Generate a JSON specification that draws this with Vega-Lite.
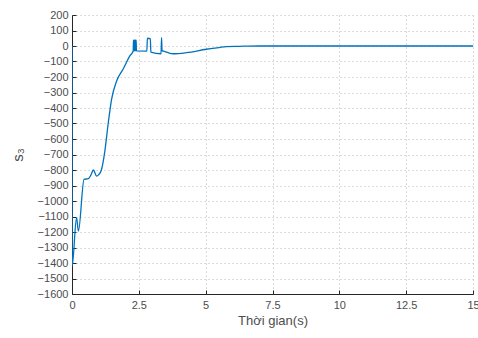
{
  "$schema": "https://vega.github.io/schema/vega-lite/v6.json",
  "width": 401,
  "height": 279,
  "autosize": "none",
  "padding": {"left": 72, "top": 15, "right": 5, "bottom": 44},
  "background": "white",
  "config": {
    "view": {"stroke": null},
    "font": "Liberation Sans",
    "axis": {
      "domainColor": "#262626",
      "tickColor": "#262626",
      "labelColor": "#4d4d4d",
      "titleColor": "#4d4d4d",
      "labelFont": "Liberation Sans",
      "titleFont": "Liberation Sans",
      "labelFontSize": 11,
      "titleFontSize": 13,
      "titleFontWeight": "normal",
      "gridColor": "#c4c4c4",
      "gridDash": [1.2, 2.8],
      "gridWidth": 1,
      "tickSize": -4,
      "domainWidth": 1
    }
  },
  "data": {
    "values": [
      {"t": 0, "s": 0},
      {"t": 0.005, "s": -1420},
      {"t": 0.17, "s": -1108},
      {"t": 0.24, "s": -1194},
      {"t": 0.45, "s": -860},
      {"t": 0.61, "s": -856},
      {"t": 0.7, "s": -835},
      {"t": 0.8, "s": -800},
      {"t": 0.92, "s": -839},
      {"t": 1.0, "s": -830},
      {"t": 1.1, "s": -800},
      {"t": 1.23, "s": -677},
      {"t": 1.35, "s": -505},
      {"t": 1.48, "s": -344},
      {"t": 1.67, "s": -226},
      {"t": 1.91, "s": -150},
      {"t": 2.16, "s": -65},
      {"t": 2.29, "s": -32},
      {"t": 2.3, "s": 37},
      {"t": 2.31, "s": -32},
      {"t": 2.32, "s": 38},
      {"t": 2.33, "s": -30},
      {"t": 2.34, "s": 38},
      {"t": 2.35, "s": -30},
      {"t": 2.36, "s": 38},
      {"t": 2.37, "s": -30},
      {"t": 2.38, "s": 38},
      {"t": 2.39, "s": -30},
      {"t": 2.4, "s": 37},
      {"t": 2.41, "s": -32},
      {"t": 2.8, "s": -33},
      {"t": 2.82, "s": 50},
      {"t": 2.93, "s": 48},
      {"t": 2.95, "s": -40},
      {"t": 3.33, "s": -50},
      {"t": 3.35, "s": 54},
      {"t": 3.37, "s": -30},
      {"t": 3.45, "s": -35},
      {"t": 3.66, "s": -47},
      {"t": 3.78, "s": -50},
      {"t": 4.28, "s": -43},
      {"t": 5.03, "s": -21},
      {"t": 5.5, "s": -10},
      {"t": 5.77, "s": -4},
      {"t": 6.27, "s": -2},
      {"t": 7, "s": 0},
      {"t": 15, "s": 0}
    ]
  },
  "mark": {"type": "line", "color": "#0072BD", "strokeWidth": 1.3, "clip": true, "interpolate": "monotone"},
  "encoding": {
    "x": {
      "field": "t", "type": "quantitative",
      "scale": {"domain": [0, 15], "nice": false, "zero": false},
      "axis": {"values": [0, 2.5, 5, 7.5, 10, 12.5, 15], "format": ".1~f", "title": "Thời gian(s)", "labelPadding": 9, "titlePadding": 4, "labelFlush": false}
    },
    "y": {
      "field": "s", "type": "quantitative",
      "scale": {"domain": [-1600, 200], "nice": false, "zero": false},
      "axis": {"values": [200, 100, 0, -100, -200, -300, -400, -500, -600, -700, -800, -900, -1000, -1100, -1200, -1300, -1400, -1500, -1600], "format": "d", "title": "s₃", "titleFontSize": 15, "labelPadding": 8, "titlePadding": 12, "labelFlush": false}
    }
  }
}
